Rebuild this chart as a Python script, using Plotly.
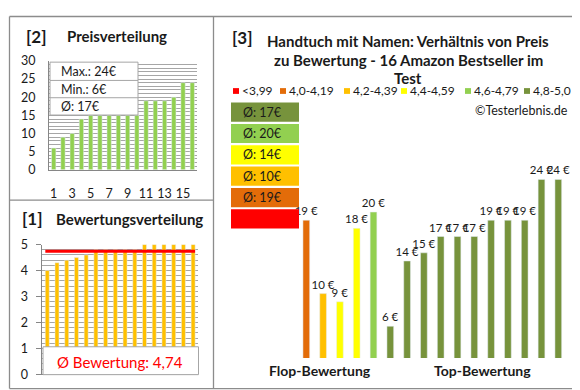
import plotly.graph_objects as go

# ---------------- data ----------------
price_positions = list(range(1, 17))
price_values = [6, 9, 10, 14, 15, 15, 15, 15, 15, 15, 19, 19, 19, 20, 24, 24]
price_tick_labels = ["1", "3", "5", "7", "9", "11", "13", "15"]
price_stats = ["Max.: 24€", "Min.: 6€", "Ø: 17€"]

rating_positions = list(range(1, 17))
rating_values = [4.0, 4.3, 4.4, 4.5, 4.6, 4.8, 4.8, 4.8, 4.8, 4.8, 5.0, 5.0, 5.0, 5.0, 5.0, 5.0]
rating_average = 4.74
rating_average_label = "Ø Bewertung: 4,74"

ratio_positions = list(range(16))
ratio_prices = [19, 10, 9, 18, 20, 6, 14, 15, 17, 17, 17, 19, 19, 19, 24, 24]
ratio_ratings = [4.0, 4.3, 4.4, 4.5, 4.6, 4.8, 4.8, 4.8, 4.8, 4.8, 5.0, 5.0, 5.0, 5.0, 5.0, 5.0]

class_labels = ["<3,99", "4,0-4,19", "4,2-4,39", "4,4-4,59", "4,6-4,79", "4,8-5,0"]
class_lower_bounds = [0.0, 4.0, 4.2, 4.4, 4.6, 4.8]
class_colors = ["#FF0000", "#E36C09", "#FFC000", "#FFFF00", "#92D050", "#77933C"]
class_avg_labels = ["", "Ø: 19€", "Ø: 10€", "Ø: 14€", "Ø: 20€", "Ø: 17€"]

group_labels = ["Flop-Bewertung", "Top-Bewertung"]
title_lines = ["Handtuch mit Namen: Verhältnis von Preis",
               "zu Bewertung - 16 Amazon Bestseller im", "Test"]

# ---------------- helpers ----------------
W, H = 580, 390
FONT = "Lato"
TXT = "#1a1a1a"
GRID = "#A6A6A6"
FRAME = "#8C8C8C"


def px(x):
    return x / W


def py(y):
    return 1 - y / H


def rating_class(r):
    idx = 0
    for i, b in enumerate(class_lower_bounds):
        if r >= b - 1e-9:
            idx = i
    return idx


bar_colors = [class_colors[rating_class(r)] for r in ratio_ratings]

fig = go.Figure()

fig.add_trace(go.Bar(x=price_positions, y=price_values, marker_color="#92D050",
                     width=0.47, xaxis="x", yaxis="y", hoverinfo="skip"))
fig.add_trace(go.Bar(x=rating_positions, y=rating_values, marker_color="#FFC000",
                     width=0.41, xaxis="x2", yaxis="y2", hoverinfo="skip"))
fig.add_trace(go.Bar(x=ratio_positions, y=ratio_prices, marker_color=bar_colors,
                     width=0.4, xaxis="x3", yaxis="y3",
                     text=[f"{p} €" for p in ratio_prices], textposition="outside",
                     constraintext="none", cliponaxis=False,
                     textfont=dict(family=FONT, size=11.5, color=TXT), hoverinfo="skip"))

shapes = []
annotations = []

# stats box (top-left)
shapes.append(dict(type="rect", xref="paper", yref="paper", x0=px(42), x1=px(130),
                   y0=py(103), y1=py(48), fillcolor="white",
                   line=dict(color=GRID, width=1), layer="above"))
for yy in (67, 85):
    shapes.append(dict(type="line", xref="paper", yref="paper", x0=px(42), x1=px(130),
                       y0=py(yy), y1=py(yy), line=dict(color=GRID, width=1), layer="above"))
for i, s in enumerate(price_stats):
    annotations.append(dict(xref="paper", yref="paper", x=px(51), y=py(57.5 + i * 18.5),
                            xanchor="left", yanchor="middle", text=s, showarrow=False,
                            font=dict(family=FONT, size=12.5, color=TXT)))

# rating average
shapes.append(dict(type="line", xref="x2", yref="y2", x0=0.8, x1=16.2,
                   y0=rating_average, y1=rating_average,
                   line=dict(color="#FF0000", width=3), layer="above"))
shapes.append(dict(type="rect", xref="paper", yref="paper", x0=px(35), x1=px(190.5),
                   y0=py(373), y1=py(344), fillcolor="white",
                   line=dict(color=GRID, width=1), layer="above"))
annotations.append(dict(xref="paper", yref="paper", x=px(112), y=py(359.5),
                        xanchor="center", yanchor="middle", text=rating_average_label,
                        showarrow=False, font=dict(family=FONT, size=15, color="#FF0000")))

# class average boxes (top = best class)
for k, ci in enumerate(reversed(range(len(class_colors)))):
    y0 = 90 + k * 22.2
    shapes.append(dict(type="rect", xref="paper", yref="paper", x0=px(223), x1=px(291),
                       y0=py(y0 + 20), y1=py(y0), fillcolor=class_colors[ci],
                       line=dict(width=0), layer="above"))
    if class_avg_labels[ci]:
        annotations.append(dict(xref="paper", yref="paper", x=px(233), y=py(y0 + 10),
                                xanchor="left", yanchor="middle", text=class_avg_labels[ci],
                                showarrow=False, font=dict(family=FONT, size=12.5, color=TXT)))

# legend
legend_sq_x = [225, 272, 336, 393, 457, 516]
for i, lab in enumerate(class_labels):
    sx = legend_sq_x[i]
    shapes.append(dict(type="rect", xref="paper", yref="paper", x0=px(sx), x1=px(sx + 6),
                       y0=py(81), y1=py(75), fillcolor=class_colors[i],
                       line=dict(width=0), layer="above"))
    annotations.append(dict(xref="paper", yref="paper", x=px(sx + 7), y=py(78),
                            xanchor="left", yanchor="middle", text=lab, showarrow=False,
                            font=dict(family=FONT, size=12, color=TXT)))

annotations.append(dict(xref="paper", yref="paper", x=px(562), y=py(98),
                        xanchor="right", yanchor="middle", text="©Testerlebnis.de",
                        showarrow=False, font=dict(family=FONT, size=12.5, color=TXT)))

# title lines
for i, line in enumerate(title_lines):
    annotations.append(dict(xref="paper", yref="paper", x=px(400), y=py(26 + i * 19.5),
                            xanchor="center", yanchor="middle", text=f"<b>{line}</b>",
                            showarrow=False, font=dict(family=FONT, size=15, color=TXT)))

# panel headers
headers = [("[2]", 16, 21, 17), ("[1]", 12, 211, 17), ("[3]", 222, 22, 17)]
for t, x, y, s in headers:
    annotations.append(dict(xref="paper", yref="paper", x=px(x), y=py(y), xanchor="left",
                            yanchor="middle", text=f"<b>{t}</b>", showarrow=False,
                            font=dict(family=FONT, size=s, color=TXT)))
annotations.append(dict(xref="paper", yref="paper", x=px(108.5), y=py(21), xanchor="center",
                        yanchor="middle", text="<b>Preisverteilung</b>", showarrow=False,
                        font=dict(family=FONT, size=15, color=TXT)))
annotations.append(dict(xref="paper", yref="paper", x=px(121.5), y=py(211), xanchor="center",
                        yanchor="middle", text="<b>Bewertungsverteilung</b>", showarrow=False,
                        font=dict(family=FONT, size=15, color=TXT)))

# group labels
for lab, cx in zip(group_labels, [312, 474]):
    annotations.append(dict(xref="paper", yref="paper", x=px(cx), y=py(369), xanchor="center",
                            yanchor="middle", text=f"<b>{lab}</b>", showarrow=False,
                            font=dict(family=FONT, size=14, color=TXT)))

# frames
frame_lines = [
    (1.5, 0.5, 577.5, 0.5), (577.5, 0.5, 577.5, 387.5), (1.5, 387.5, 577.5, 387.5),
    (1.5, 0.5, 1.5, 387.5), (205.5, 0.5, 205.5, 387.5), (1.5, 191.5, 205.5, 191.5),
]
for x0, y0, x1, y1 in frame_lines:
    shapes.append(dict(type="line", xref="paper", yref="paper", x0=px(x0), x1=px(x1),
                       y0=py(y0), y1=py(y1), line=dict(color=FRAME, width=1.3), layer="above"))

tickfont = dict(family=FONT, size=12.5, color=TXT)

fig.update_layout(
    width=W, height=H, autosize=False,
    margin=dict(l=0, r=0, t=0, b=0),
    paper_bgcolor="white", plot_bgcolor="white",
    showlegend=False,
    shapes=shapes, annotations=annotations,
    xaxis=dict(domain=[px(41.1), px(188.9)], range=[0.5, 16.5], tickvals=[1, 3, 5, 7, 9, 11, 13, 15],
               ticktext=price_tick_labels, showgrid=False, showline=True, linecolor="#868686",
               ticks="", tickfont=tickfont, ticklabelstandoff=12, anchor="y", fixedrange=True),
    yaxis=dict(domain=[py(160), py(46.7)], range=[0, 30], tickvals=[0, 5, 10, 15, 20, 25, 30],
               showgrid=True, gridcolor=GRID, gridwidth=1,
               minor=dict(dtick=1, showgrid=True, gridcolor=GRID, gridwidth=1),
               showline=True, linecolor="#868686", zeroline=False, ticks="",
               tickfont=tickfont, ticklabelstandoff=10, anchor="x"),
    xaxis2=dict(domain=[px(34.4), px(190)], range=[0.5, 16.5], showticklabels=False,
                showgrid=False, showline=True, linecolor="#868686", ticks="", anchor="y2"),
    yaxis2=dict(domain=[py(372.7), py(237.7)], range=[0, 5], dtick=1,
                showgrid=True, gridcolor=GRID, gridwidth=1,
                minor=dict(dtick=0.2, showgrid=True, gridcolor=GRID, gridwidth=1),
                showline=True, linecolor="#868686", zeroline=False, ticks="outside",
                ticklen=5, tickcolor="#868686", tickfont=tickfont, ticklabelstandoff=6,
                anchor="x2"),
    xaxis3=dict(domain=[px(289.9), px(558.7)], range=[-0.5, 15.5], visible=False, anchor="y3"),
    yaxis3=dict(domain=[py(355.7), py(143)], range=[2.1, 27.18], visible=False, anchor="x3"),
)

fig.write_html("out.html")
